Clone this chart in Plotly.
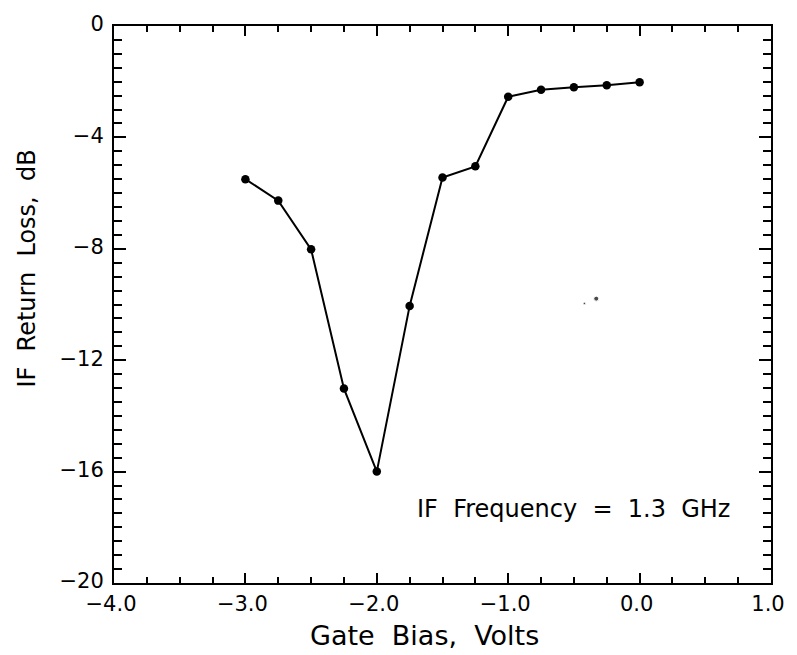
import plotly.graph_objects as go

# Data
gate_bias = [-3.0, -2.75, -2.5, -2.25, -2.0, -1.75, -1.5, -1.25, -1.0, -0.75, -0.5, -0.25, 0.0]
return_loss = [-5.50, -6.27, -8.02, -13.02, -16.00, -10.05, -5.44, -5.04, -2.54, -2.29, -2.20, -2.13, -2.02]

# Small specks visible in the scanned figure
speck_x = [-0.33, -0.42]
speck_y = [-9.79, -9.96]
speck_size = [5, 2.5]

x_ticks = [-4.0, -3.0, -2.0, -1.0, 0.0, 1.0]
x_ticklabels = ["−4.0", "−3.0", "−2.0", "−1.0", "0.0", "1.0"]
y_ticks = [0, -4, -8, -12, -16, -20]
y_ticklabels = ["0", "−4", "−8", "−12", "−16", "−20"]

FONT = "DejaVu Sans"
NB = "\u00a0"

fig = go.Figure()
fig.add_trace(go.Scatter(
    x=gate_bias, y=return_loss, mode="lines+markers",
    line=dict(color="black", width=2),
    marker=dict(color="black", size=8.5),
    showlegend=False, hoverinfo="skip",
))
fig.add_trace(go.Scatter(
    x=speck_x, y=speck_y, mode="markers",
    marker=dict(color="black", size=speck_size),
    showlegend=False, hoverinfo="skip",
))

line_style = dict(
    showline=True, linecolor="black", linewidth=2, mirror="allticks",
    ticks="inside", tickcolor="black", tickwidth=1.5,
    showgrid=False, zeroline=False, ticklabeloverflow="allow",
)

fig.update_layout(
    xaxis=dict(
        range=[-4.0, 1.0], tickmode="array", tickvals=x_ticks, ticktext=x_ticklabels,
        ticklen=10, ticklabelshift=-3, ticklabelstandoff=1,
        tickfont=dict(family=FONT, size=21, color="black"),
        minor=dict(dtick=0.25, tick0=0, ticks="inside", ticklen=6, tickcolor="black", tickwidth=1.5, showgrid=False),
        **line_style,
    ),
    yaxis=dict(
        range=[-20, 0], tickmode="array", tickvals=y_ticks, ticktext=y_ticklabels,
        ticklen=12, ticklabelshift=-2, ticklabelstandoff=4,
        tickfont=dict(family=FONT, size=21, color="black"),
        minor=dict(dtick=0.5, tick0=0, ticks="inside", ticklen=8, tickcolor="black", tickwidth=1.5, showgrid=False),
        **line_style,
    ),
)

fig.add_annotation(
    text=f"Gate{NB}{NB}Bias,{NB}{NB}Volts",
    xref="paper", yref="paper", x=0.473, y=-0.095, xanchor="center", yanchor="middle",
    showarrow=False, font=dict(family=FONT, size=27, color="black"),
)
fig.add_annotation(
    text=f"IF{NB}{NB}Return{NB}{NB}Loss,{NB}{NB}dB",
    xref="paper", yref="paper", x=-0.132, y=0.565, xanchor="center", yanchor="middle",
    textangle=-90, showarrow=False, font=dict(family=FONT, size=24, color="black"),
)
fig.add_annotation(
    text=f"IF{NB}{NB}Frequency{NB}{NB}={NB}{NB}1.3{NB}{NB}GHz",
    xref="paper", yref="paper", x=0.70, y=0.133, xanchor="center", yanchor="middle",
    showarrow=False, font=dict(family=FONT, size=24, color="black"),
)

fig.update_layout(
    width=797, height=655,
    margin=dict(l=114, r=14, t=20, b=72),
    paper_bgcolor="white", plot_bgcolor="white",
    font=dict(family=FONT, color="black"),
)

# Remove the default page margin so the 797x655 figure fills the window exactly.
fig.write_html(
    "out.html",
    config={"displayModeBar": False},
    post_script="document.body.style.margin='0';document.body.style.overflow='hidden';",
)
